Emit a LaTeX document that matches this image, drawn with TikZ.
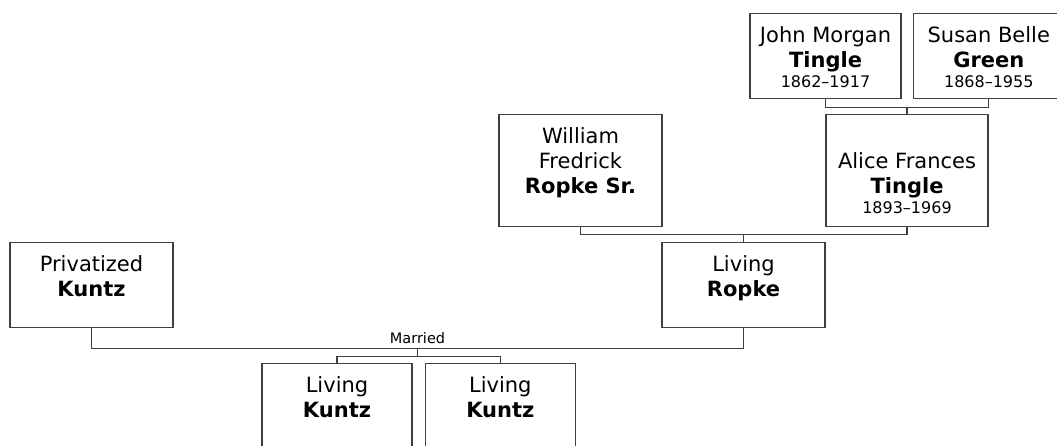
\documentclass[tikz,border=0pt]{standalone}
\usepackage{fontspec}
\setmainfont{DejaVu Sans}
\usetikzlibrary{positioning,calc}

\newcommand{\lifespan}[1]{\\[-5pt]{\fontsize{16}{20}\selectfont #1}}

\begin{document}
\begin{tikzpicture}[
  x=1pt, y=-1pt,
  person/.style={
    draw=black!75,
    line width=1.3pt,
    inner sep=0pt,
    anchor=north,
    minimum width=163pt,
    text height=54pt,
    text depth=31pt,
    align=center,
    font=\fontsize{21}{25}\selectfont
  },
  datedbox/.style={text height=74pt,text depth=11pt},
  link/.style={draw=black!75,line width=1.3pt},
  tag/.style={inner sep=0pt,font=\fontsize{14.5}{16}\selectfont}
]
\useasboundingbox (0,0) rectangle (1057,445);

% grandparents
\node[person,datedbox,minimum width=151pt] (john) at (825.5,13) {John Morgan\\\textbf{Tingle}\lifespan{1862--1917}};
\node[person,datedbox,minimum width=151pt,right=11pt of john] (susan) {Susan Belle\\\textbf{Green}\lifespan{1868--1955}};

% parents
\node[person,minimum width=162pt,text height=99pt,text depth=13pt] (alice) at (907,114) {Alice Frances\\\textbf{Tingle}\lifespan{1893--1969}};
\node[person,text height=79pt,text depth=33pt] (william) at (580.5,114) {William\\Fredrick\\\textbf{Ropke Sr.}};

% couple
\node[person] (ropke) at (743.5,242) {Living\\\textbf{Ropke}};
\node[person] (priv) at (91.5,242) {Privatized\\\textbf{Kuntz}};

% children
\node[person,minimum width=150pt] (kid1) at (337,363) {Living\\\textbf{Kuntz}};
\node[person,minimum width=150pt,right=12pt of kid1] (kid2) {Living\\\textbf{Kuntz}};

\draw[link] (john.south) -- ++(0,8) coordinate (jm) -| (susan.south);
\draw[link] (alice.north) -- (alice.north |- jm);

\draw[link] (william.south) -- ++(0,7.5) coordinate (wa) -| (alice.south);
\draw[link] (ropke.north) -- (ropke.north |- wa);

\coordinate (married) at ($(priv.south)!0.5!(ropke.south)+(0,20)$);
\draw[link] (priv.south) |- (married) -| (ropke.south);
\node[tag,above=4pt of married] (mlabel) {Married};
\draw[link] (married) -- ++(0,8) coordinate (kids);
\draw[link] (kid1.north) |- (kids) -| (kid2.north);

\end{tikzpicture}
\end{document}
